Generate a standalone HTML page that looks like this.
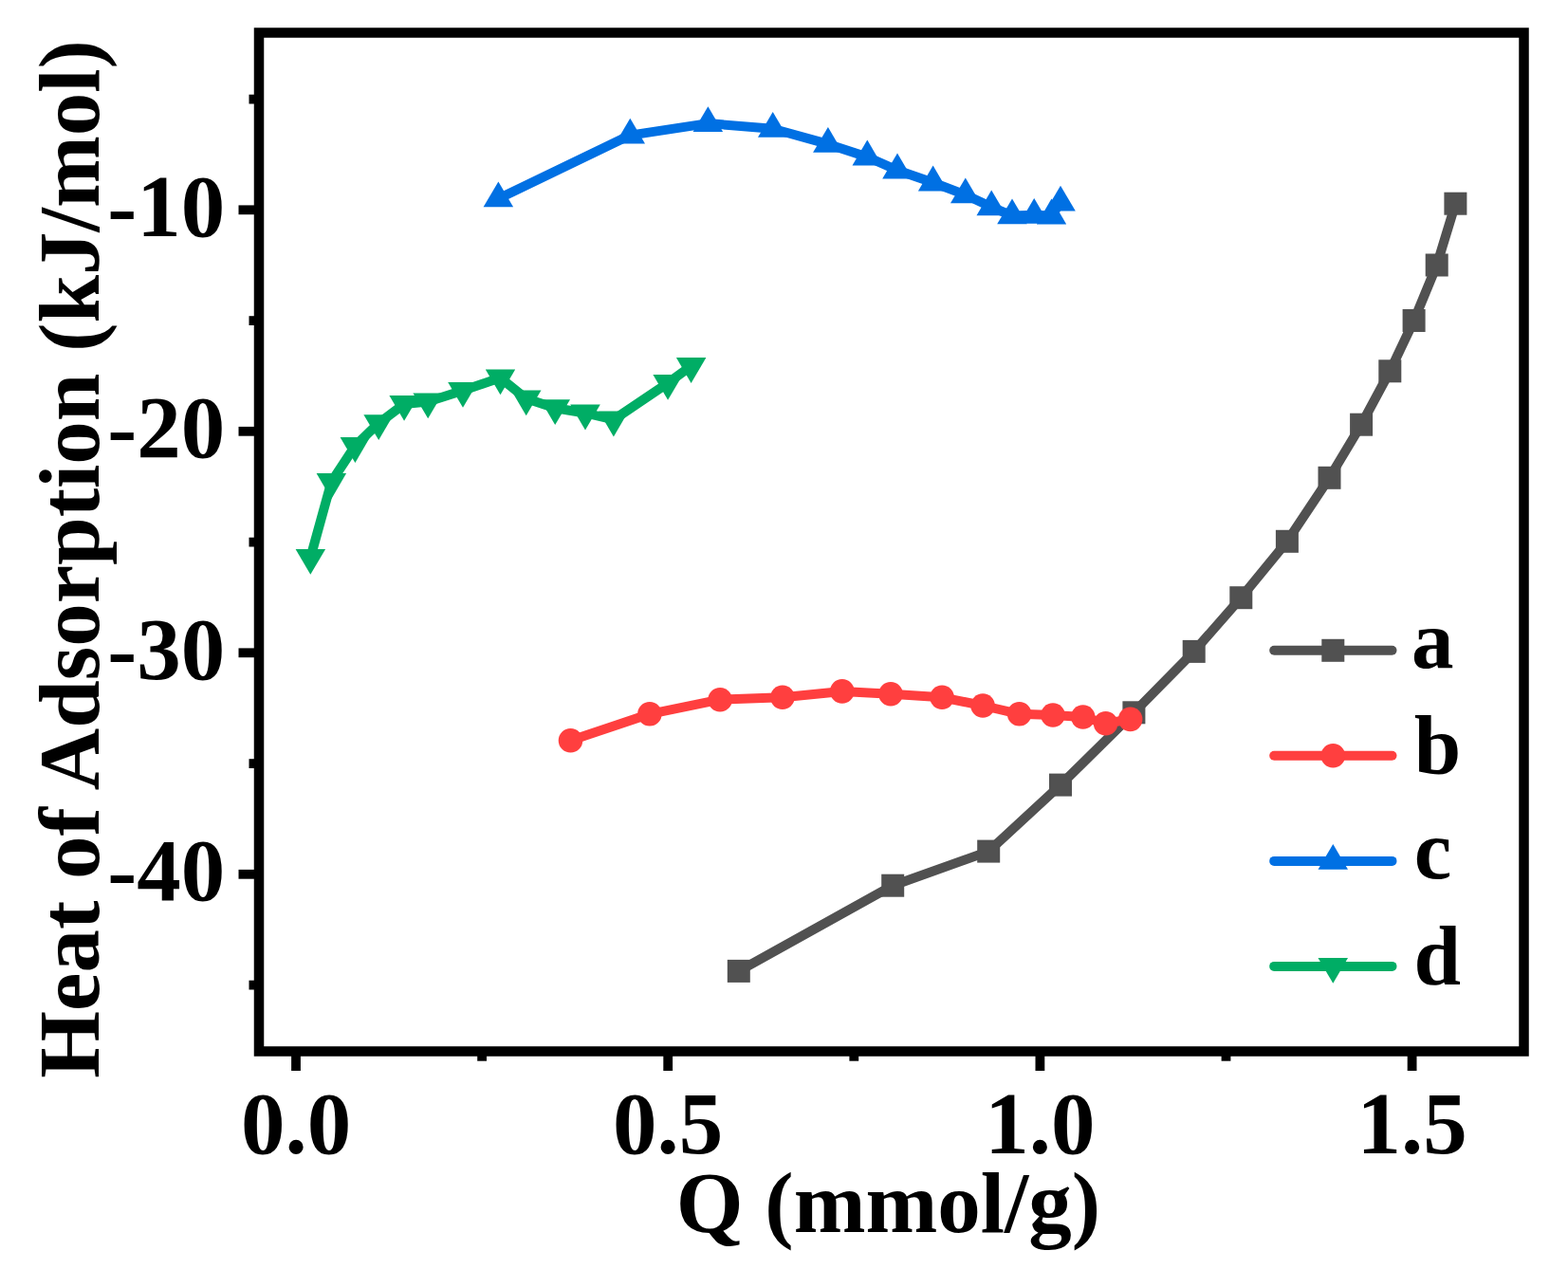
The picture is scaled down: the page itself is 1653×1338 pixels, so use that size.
<!DOCTYPE html>
<html><head><meta charset="utf-8"><title>Heat of Adsorption</title>
<style>html,body{margin:0;padding:0;background:#fff;overflow:hidden}svg{display:block}</style>
</head><body>
<svg width="1653" height="1338" viewBox="0 0 1653 1338">
<style>
text{font-family:"Liberation Serif","Times New Roman",serif;font-weight:bold;fill:#000}
.t{font-size:93px}
.l{font-size:89px}
.ti{font-size:91px}
</style>
<rect width="1653" height="1338" fill="#fff"/>
<polyline points="778.8,1023.9 941.2,933.7 1042.2,897.6 1118.0,827.6 1195.4,751.3 1258.7,686.9 1308.3,630.2 1356.9,570.8 1401.5,503.8 1435.1,447.7 1465.3,391.3 1490.6,338.0 1514.7,279.5 1534.4,214.7" fill="none" stroke="#515151" stroke-width="10" stroke-linejoin="round" stroke-linecap="round"/><rect x="766.8" y="1011.9" width="24" height="24" fill="#515151"/><rect x="929.2" y="921.7" width="24" height="24" fill="#515151"/><rect x="1030.2" y="885.6" width="24" height="24" fill="#515151"/><rect x="1106.0" y="815.6" width="24" height="24" fill="#515151"/><rect x="1183.4" y="739.3" width="24" height="24" fill="#515151"/><rect x="1246.7" y="674.9" width="24" height="24" fill="#515151"/><rect x="1296.3" y="618.2" width="24" height="24" fill="#515151"/><rect x="1344.9" y="558.8" width="24" height="24" fill="#515151"/><rect x="1389.5" y="491.8" width="24" height="24" fill="#515151"/><rect x="1423.1" y="435.7" width="24" height="24" fill="#515151"/><rect x="1453.3" y="379.3" width="24" height="24" fill="#515151"/><rect x="1478.6" y="326.0" width="24" height="24" fill="#515151"/><rect x="1502.7" y="267.5" width="24" height="24" fill="#515151"/><rect x="1522.4" y="202.7" width="24" height="24" fill="#515151"/><polyline points="601.5,780.8 684.9,752.8 759.1,737.7 824.9,735.2 887.8,728.9 939.0,731.7 993.1,735.3 1036.1,744.0 1074.6,752.8 1110.0,754.0 1141.7,756.0 1165.6,762.8 1191.6,758.4" fill="none" stroke="#FF3F3F" stroke-width="10" stroke-linejoin="round" stroke-linecap="round"/><circle cx="601.5" cy="780.8" r="12.8" fill="#FF3F3F"/><circle cx="684.9" cy="752.8" r="12.8" fill="#FF3F3F"/><circle cx="759.1" cy="737.7" r="12.8" fill="#FF3F3F"/><circle cx="824.9" cy="735.2" r="12.8" fill="#FF3F3F"/><circle cx="887.8" cy="728.9" r="12.8" fill="#FF3F3F"/><circle cx="939.0" cy="731.7" r="12.8" fill="#FF3F3F"/><circle cx="993.1" cy="735.3" r="12.8" fill="#FF3F3F"/><circle cx="1036.1" cy="744.0" r="12.8" fill="#FF3F3F"/><circle cx="1074.6" cy="752.8" r="12.8" fill="#FF3F3F"/><circle cx="1110.0" cy="754.0" r="12.8" fill="#FF3F3F"/><circle cx="1141.7" cy="756.0" r="12.8" fill="#FF3F3F"/><circle cx="1165.6" cy="762.8" r="12.8" fill="#FF3F3F"/><circle cx="1191.6" cy="758.4" r="12.8" fill="#FF3F3F"/><polyline points="525.4,209.4 664.3,142.6 746.4,130.1 814.7,135.8 872.9,151.9 914.3,165.5 946.0,179.5 983.6,192.5 1017.8,205.4 1045.2,218.3 1067.0,227.4 1090.2,226.8 1108.5,227.5 1118.0,213.7" fill="none" stroke="#0070E3" stroke-width="10" stroke-linejoin="round" stroke-linecap="round"/><polygon points="525.4,191.5 509.6,218.3 541.1,218.3" fill="#0070E3"/><polygon points="664.3,124.7 648.5,151.5 680.0,151.5" fill="#0070E3"/><polygon points="746.4,112.2 730.6,139.0 762.1,139.0" fill="#0070E3"/><polygon points="814.7,117.9 799.0,144.7 830.5,144.7" fill="#0070E3"/><polygon points="872.9,134.0 857.1,160.8 888.6,160.8" fill="#0070E3"/><polygon points="914.3,147.6 898.5,174.4 930.0,174.4" fill="#0070E3"/><polygon points="946.0,161.6 930.2,188.4 961.8,188.4" fill="#0070E3"/><polygon points="983.6,174.6 967.9,201.4 999.4,201.4" fill="#0070E3"/><polygon points="1017.8,187.5 1002.0,214.3 1033.5,214.3" fill="#0070E3"/><polygon points="1045.2,200.4 1029.5,227.2 1061.0,227.2" fill="#0070E3"/><polygon points="1067.0,209.5 1051.2,236.3 1082.8,236.3" fill="#0070E3"/><polygon points="1090.2,208.9 1074.5,235.7 1106.0,235.7" fill="#0070E3"/><polygon points="1108.5,209.6 1092.8,236.4 1124.2,236.4" fill="#0070E3"/><polygon points="1118.0,195.8 1102.2,222.6 1133.8,222.6" fill="#0070E3"/><polyline points="327.3,587.9 349.4,508.0 374.4,470.0 399.2,446.2 426.1,425.9 451.2,423.4 488.0,411.8 527.5,398.3 554.7,420.3 585.2,430.2 617.0,435.5 646.9,442.5 704.1,403.8 728.6,386.0" fill="none" stroke="#00AD65" stroke-width="10" stroke-linejoin="round" stroke-linecap="round"/><polygon points="327.3,605.8 311.6,579.0 343.1,579.0" fill="#00AD65"/><polygon points="349.4,525.9 333.6,499.1 365.1,499.1" fill="#00AD65"/><polygon points="374.4,487.9 358.6,461.1 390.1,461.1" fill="#00AD65"/><polygon points="399.2,464.1 383.4,437.3 414.9,437.3" fill="#00AD65"/><polygon points="426.1,443.8 410.4,417.0 441.9,417.0" fill="#00AD65"/><polygon points="451.2,441.3 435.4,414.5 466.9,414.5" fill="#00AD65"/><polygon points="488.0,429.7 472.2,402.9 503.8,402.9" fill="#00AD65"/><polygon points="527.5,416.2 511.8,389.4 543.2,389.4" fill="#00AD65"/><polygon points="554.7,438.2 539.0,411.4 570.5,411.4" fill="#00AD65"/><polygon points="585.2,448.1 569.5,421.3 601.0,421.3" fill="#00AD65"/><polygon points="617.0,453.4 601.2,426.6 632.8,426.6" fill="#00AD65"/><polygon points="646.9,460.4 631.1,433.6 662.6,433.6" fill="#00AD65"/><polygon points="704.1,421.7 688.4,394.9 719.9,394.9" fill="#00AD65"/><polygon points="728.6,403.9 712.9,377.1 744.4,377.1" fill="#00AD65"/>
<line x1="1343.2" y1="685.8" x2="1467.5" y2="685.8" stroke="#515151" stroke-width="10" stroke-linecap="round"/><rect x="1393.3" y="673.8" width="24" height="24" fill="#515151"/><text x="1488.1" y="703.9" class="l">a</text><line x1="1343.2" y1="796.8" x2="1467.5" y2="796.8" stroke="#FF3F3F" stroke-width="10" stroke-linecap="round"/><circle cx="1405.3" cy="796.8" r="12.8" fill="#FF3F3F"/><text x="1490.7" y="816.4" class="l">b</text><line x1="1343.2" y1="907.9" x2="1467.5" y2="907.9" stroke="#0070E3" stroke-width="10" stroke-linecap="round"/><polygon points="1405.3,890.0 1389.5,916.8 1421.0,916.8" fill="#0070E3"/><text x="1490.7" y="926.2" class="l">c</text><line x1="1343.2" y1="1018.9" x2="1467.5" y2="1018.9" stroke="#00AD65" stroke-width="10" stroke-linecap="round"/><polygon points="1405.3,1036.8 1389.5,1010.0 1421.0,1010.0" fill="#00AD65"/><text x="1490.4" y="1038.0" class="l">d</text>
<rect x="273" y="34.5" width="1333.5" height="1074.0" fill="none" stroke="#000" stroke-width="10.5"/>
<line x1="273" y1="221.3" x2="251.5" y2="221.3" stroke="#000" stroke-width="9.8"/><line x1="273" y1="454.8" x2="251.5" y2="454.8" stroke="#000" stroke-width="9.8"/><line x1="273" y1="688.3" x2="251.5" y2="688.3" stroke="#000" stroke-width="9.8"/><line x1="273" y1="921.8" x2="251.5" y2="921.8" stroke="#000" stroke-width="9.8"/><line x1="273" y1="104.6" x2="262.5" y2="104.6" stroke="#000" stroke-width="9.8"/><line x1="273" y1="338.1" x2="262.5" y2="338.1" stroke="#000" stroke-width="9.8"/><line x1="273" y1="571.6" x2="262.5" y2="571.6" stroke="#000" stroke-width="9.8"/><line x1="273" y1="805.1" x2="262.5" y2="805.1" stroke="#000" stroke-width="9.8"/><line x1="273" y1="1038.6" x2="262.5" y2="1038.6" stroke="#000" stroke-width="9.8"/><line x1="312.0" y1="1108.5" x2="312.0" y2="1129" stroke="#000" stroke-width="9.8"/><line x1="704.2" y1="1108.5" x2="704.2" y2="1129" stroke="#000" stroke-width="9.8"/><line x1="1096.4" y1="1108.5" x2="1096.4" y2="1129" stroke="#000" stroke-width="9.8"/><line x1="1488.6" y1="1108.5" x2="1488.6" y2="1129" stroke="#000" stroke-width="9.8"/><line x1="508.1" y1="1108.5" x2="508.1" y2="1118.7" stroke="#000" stroke-width="9.8"/><line x1="900.3" y1="1108.5" x2="900.3" y2="1118.7" stroke="#000" stroke-width="9.8"/><line x1="1292.5" y1="1108.5" x2="1292.5" y2="1118.7" stroke="#000" stroke-width="9.8"/>
<text x="237.3" y="248.6" text-anchor="end" class="t">-10</text><text x="237.3" y="482.1" text-anchor="end" class="t">-20</text><text x="237.3" y="715.6" text-anchor="end" class="t">-30</text><text x="237.3" y="949.1" text-anchor="end" class="t">-40</text><text x="312.0" y="1215.8" text-anchor="middle" class="t">0.0</text><text x="704.2" y="1215.8" text-anchor="middle" class="t">0.5</text><text x="1096.4" y="1215.8" text-anchor="middle" class="t">1.0</text><text x="1488.6" y="1215.8" text-anchor="middle" class="t">1.5</text>
<text class="ti" x="936.5" y="1298.6" text-anchor="middle">Q (mmol/g)</text>
<text class="ti" transform="translate(104,589.5) rotate(-90)" x="0" y="0" text-anchor="middle">Heat of Adsorption (kJ/mol)</text>
</svg>
</body></html>
